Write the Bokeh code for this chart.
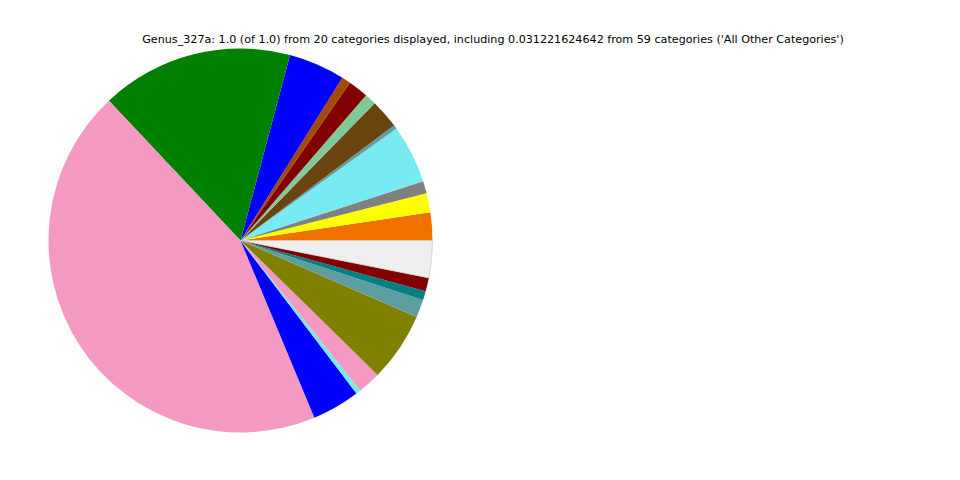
import math
from bokeh.plotting import figure
from bokeh.models import ColumnDataSource, Range1d
from bokeh.core.properties import value
from bokeh.embed import file_html
from bokeh.resources import INLINE

# Data (fractions of the whole), counter-clockwise from 3 o'clock
fractions = [0.0235, 0.0161, 0.0103, 0.0493, 0.0032, 0.0245, 0.0097, 0.0169,
             0.0075, 0.0475, 0.1617, 0.4428, 0.0403, 0.0042, 0.0192, 0.0583,
             0.0150, 0.0075, 0.0114, 0.031221624642]
colors = ["#f07000", "#ffff00", "#808080", "#78eaf2", "#5f9ea0", "#6b4510",
          "#80c99b", "#800000", "#a34a00", "#0000ff", "#008000", "#f49ac2",
          "#0000ff", "#78eaf2", "#f49ac2", "#808000", "#5f9ea0", "#008080",
          "#800000", "#eeeeee"]
title_text = ("Genus_327a: 1.0 (of 1.0) from 20 categories displayed, including "
              "0.031221624642 from 59 categories ('All Other Categories')")

W, H = 944, 464
total = sum(fractions)
starts, ends = [], []
acc = 0.0
for f in fractions:
    starts.append(2 * math.pi * acc / total)
    acc += f
    ends.append(2 * math.pi * acc / total)

edge = [None] * (len(colors) - 1) + ["#c0c0c0"]
src = ColumnDataSource(dict(start=starts, end=ends, color=colors, edge=edge))

p = figure(width=W, height=H, output_backend="svg", toolbar_location=None,
           x_range=Range1d(0, W), y_range=Range1d(0, H), min_border=0,
           match_aspect=False)
p.axis.visible = False
p.grid.visible = False
p.outline_line_color = None

cx, cy, r = 240, H - 240, 192
p.wedge(x=cx, y=cy, radius=r, start_angle="start", end_angle="end",
        fill_color="color", line_color="edge", line_width=0.6, source=src)

p.text(x=[492.5], y=[H - 39], text=[title_text], text_align="center",
       text_baseline="middle", text_font=value("DejaVu Sans"),
       text_font_size="11.15px", text_color="black")

open("out.html", "w").write(file_html(p, INLINE))
